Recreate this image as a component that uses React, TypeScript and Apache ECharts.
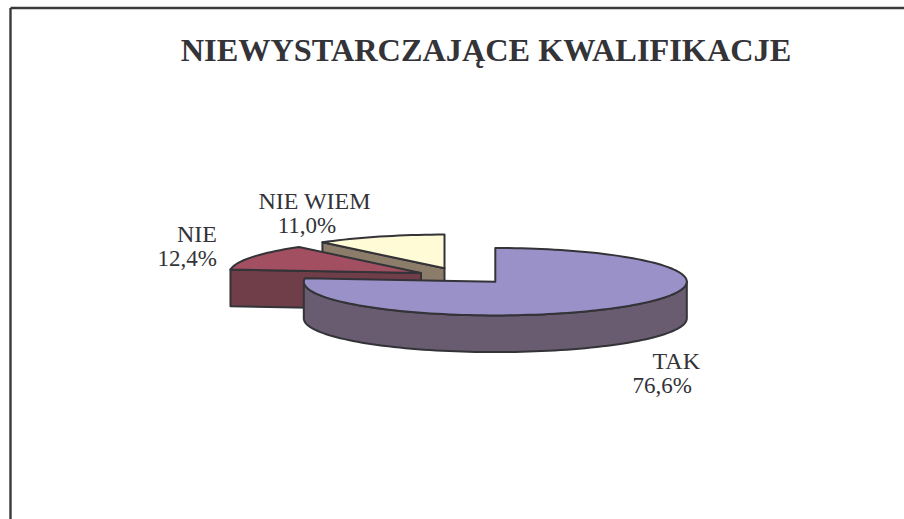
import React, { useEffect, useRef } from "react";
import * as echarts from "echarts";

const titleText = "NIEWYSTARCZAJĄCE KWALIFIKACJE";
const categories = ["TAK", "NIE", "NIE WIEM"];
const percentValues = [76.6, 12.4, 11.0];
const topColors = ["#9A91C8", "#A24F62", "#FFFBD6"];
const sideColors = ["#6A5C70", "#703E48", "#8C7C6A"];

const INK = "#333338";
const FONT = '"Liberation Serif", "Times New Roman", serif';
const RX = 191.5;
const RY = 33.7;
const DEPTH = 36.7;
// exploded slice centres, in category order
const centres = [[495.3, 281.7], [421, 273], [444.5, 268.3]];
// per-line label anchors, in category order
const labelLines = [
  [{ x: 700, y: 361, align: "right" }, { x: 692, y: 385, align: "right" }],
  [{ x: 217, y: 234, align: "right" }, { x: 217, y: 258, align: "right" }],
  [{ x: 314.5, y: 201, align: "center" }, { x: 307, y: 225, align: "center" }],
];

const total = percentValues.reduce((a, b) => a + b, 0);

function pt(cx: number, cy: number, deg: number, dy = 0) {
  const r = (deg * Math.PI) / 180;
  return [cx + RX * Math.sin(r), cy - RY * Math.cos(r) + dy];
}

function arcPoints(cx: number, cy: number, a0: number, a1: number, dy = 0) {
  const pts: number[][] = [];
  const n = Math.max(2, Math.ceil(Math.abs(a1 - a0) / 2));
  for (let i = 0; i <= n; i++) pts.push(pt(cx, cy, a0 + ((a1 - a0) * i) / n, dy));
  return pts;
}

function face(points: number[][], fill: string, z2: number) {
  return {
    type: "polygon",
    z2,
    shape: { points },
    style: { fill, stroke: INK, lineWidth: 2, lineJoin: "round" },
  };
}

function renderSlice(_: any, api: any) {
  const idx = api.value(0) as number;
  const start = percentValues.slice(0, idx).reduce((a, b) => a + b, 0) / total * 360;
  const end = start + (api.value(1) / total) * 360;
  const [cx, cy] = centres[idx];
  const apex = [cx, cy];
  const children: any[] = [];

  // cut face turned towards the viewer
  if (idx > 0) {
    const cut = pt(cx, cy, start);
    children.push(
      face([apex, cut, [cut[0], cut[1] + DEPTH], [cx, cy + DEPTH]], sideColors[idx], 1),
    );
  }
  // outer rim, visible only on the front half of the ellipse
  const rimFrom = Math.max(start, 90);
  const rimTo = Math.min(end, 270);
  if (rimTo > rimFrom) {
    const front = arcPoints(cx, cy, rimFrom, rimTo);
    const back = arcPoints(cx, cy, rimTo, rimFrom, DEPTH);
    children.push(face([...front, ...back], sideColors[idx], 2));
  }
  // top face
  children.push(face([apex, ...arcPoints(cx, cy, start, end)], topColors[idx], 3));

  // labels
  const lines = [categories[idx], api.value(1).toFixed(1).replace(".", ",") + "%"];
  lines.forEach((text, i) => {
    const a = labelLines[idx][i];
    children.push({
      type: "text",
      z2: 4,
      x: a.x,
      y: a.y,
      style: {
        text,
        fill: INK,
        font: `${i === 0 ? 24 : 23}px ${FONT}`,
        align: a.align,
        verticalAlign: "middle",
      },
    });
  });
  return { type: "group", children };
}

export default function App() {
  const ref = useRef<HTMLDivElement>(null);
  useEffect(() => {
    const chart = echarts.init(ref.current!, undefined, { renderer: "svg", width: 904, height: 519 });
    chart.setOption({
      animation: false,
      backgroundColor: "#ffffff",
      title: {
        text: titleText,
        left: 481,
        top: 29,
        textAlign: "center",
        textStyle: { fontFamily: FONT, fontWeight: "bold", fontSize: 32.3, color: INK },
      },
      graphic: [
        { type: "line", shape: { x1: 10.5, y1: 8, x2: 904, y2: 8 }, style: { stroke: "#3a3a3a", lineWidth: 2.4 } },
        { type: "line", shape: { x1: 10.5, y1: 8, x2: 10.5, y2: 519 }, style: { stroke: "#3a3a3a", lineWidth: 2.4 } },
      ],
      series: [
        {
          type: "custom",
          coordinateSystem: "none",
          renderItem: renderSlice,
          // painted back to front
          data: [2, 1, 0].map((i) => [i, percentValues[i], categories[i]]),
        },
      ],
    });
    return () => chart.dispose();
  }, []);
  return <div ref={ref} style={{ position: "absolute", left: 0, top: 0, width: 904, height: 519 }} />;
}
